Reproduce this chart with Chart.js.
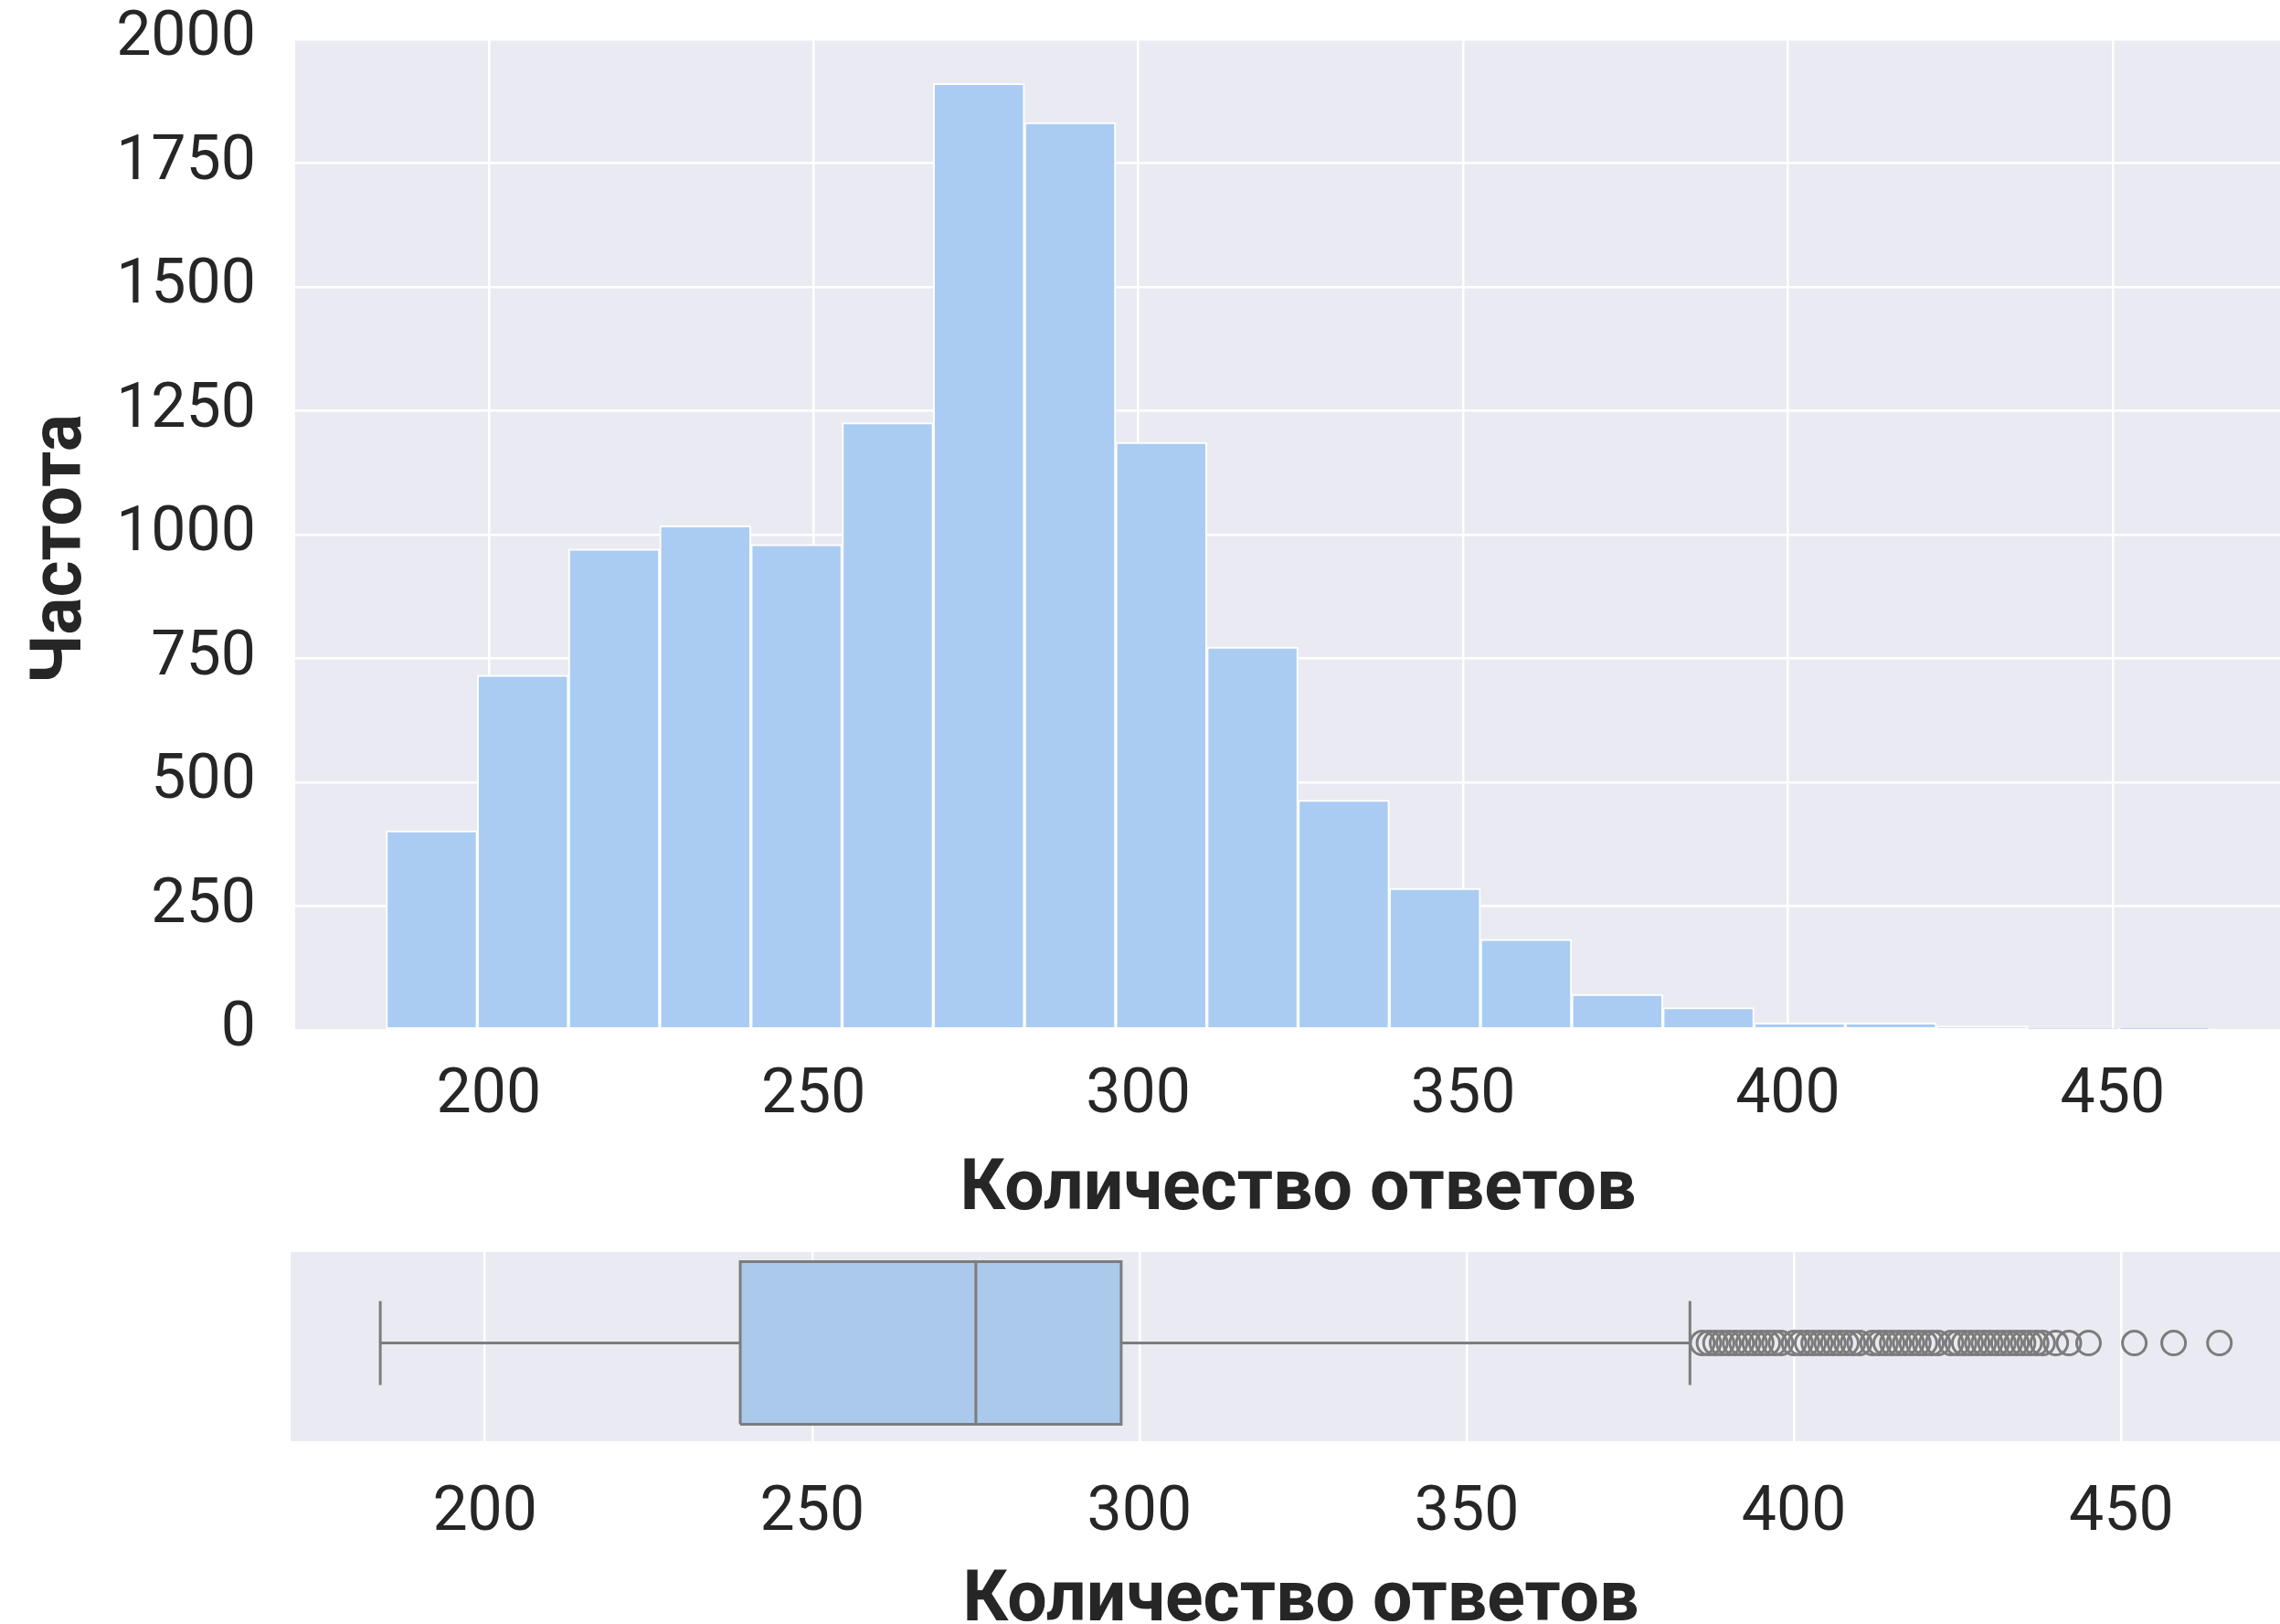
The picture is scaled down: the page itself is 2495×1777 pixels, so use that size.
<!DOCTYPE html>
<html lang="ru">
<head>
<meta charset="utf-8">
<title>Количество ответов</title>
<script src="https://cdn.jsdelivr.net/npm/chart.js@4.4.1/dist/chart.umd.min.js"></script>
<style>
  html, body { margin: 0; padding: 0; background: #ffffff; width: 2495px; height: 1777px; overflow: hidden; }
  canvas { position: absolute; left: 0; }
  #hist-chart { top: 0; }
  #box-chart { top: 1340px; }
</style>
</head>
<body>
<!-- both axes run a little past the right edge of the picture, like the cropped original -->
<canvas id="hist-chart" width="2518" height="1360"></canvas>
<canvas id="box-chart" width="2529" height="480"></canvas>
<script>
'use strict';

// ********** Data **********

let binCenters = [191.22, 205.26, 219.30, 233.34, 247.38, 261.42, 275.46, 289.50, 303.54, 317.58,
  331.62, 345.66, 359.70, 373.74, 387.78, 401.82, 415.86, 429.90, 443.94, 457.98];
let binCounts = [402, 716, 971, 1018, 980, 1226, 1911, 1832, 1186, 773,
  464, 286, 183, 72, 45, 14, 14, 8, 2, 3];

// whisker low, Q1, median, Q3, whisker high
let boxValues = [184.0, 239.0, 275.0, 297.2, 384.1];
let outliers = [386, 387, 388, 389, 390, 391, 392, 393, 394, 395, 396, 397, 398,
  400, 401, 402, 403, 404, 405, 406, 407, 408, 409, 410,
  412, 413, 414, 415, 416, 417, 418, 419, 420, 421, 422,
  424, 425, 426, 427, 428, 429, 430, 431, 432, 433, 434, 435, 436, 437, 438,
  440, 442, 445, 452, 458, 465];

let xTicks = [200, 250, 300, 350, 400, 450];
let yTicks = [0, 250, 500, 750, 1000, 1250, 1500, 1750, 2000];

let xTitle = 'Количество ответов';
let yTitle = 'Частота';

// ********** Styles **********

let textColor = '#262626';
let plotBg = '#eaeaf2';
let barColor = 'rgb(170, 204, 243)';
let boxFill = '#abc9eb';
let lineGray = '#7c7c7c';

Chart.defaults.font.family = 'Roboto';
Chart.defaults.color = textColor;

// paint the seaborn-like grey panel behind the plot
let plotBackground = {
  id: 'plotBackground',
  beforeDraw(chart) {
    let {ctx, chartArea} = chart;
    ctx.save();
    ctx.fillStyle = plotBg;
    ctx.fillRect(chartArea.left, chartArea.top, chartArea.width, chartArea.height);
    ctx.restore();
  }
};

function useTicks(list) {
  return function(scale) {
    scale.ticks = list.map(v => ({value: v}));
  };
}

// fixed axis box, no extra room kept for the end labels
function fixSize(size) {
  return function(scale) {
    if (scale.isHorizontal()) {
      scale.height = size;
    } else {
      scale.width = size;
    }
    scale.paddingTop = 0;
    scale.paddingBottom = 0;
    scale.paddingLeft = 0;
    scale.paddingRight = 0;
  };
}

// ********** Histogram **********

let histData = binCenters.map((x, i) => ({x: x, y: binCounts[i]}));

new Chart(document.getElementById('hist-chart'), {
  type: 'bar',
  data: {
    datasets: [{
      data: histData,
      backgroundColor: barColor,
      borderColor: '#ffffff',
      borderWidth: 2,
      borderSkipped: false,
      barPercentage: 1,
      categoryPercentage: 1
    }]
  },
  options: {
    responsive: false,
    animation: false,
    layout: { autoPadding: false, padding: { top: 43, right: 0, left: 0, bottom: 0 } },
    plugins: { legend: { display: false }, tooltip: { enabled: false } },
    scales: {
      x: {
        type: 'linear',
        min: 170.2,
        max: 479.0,
        offset: false,
        afterBuildTicks: useTicks(xTicks),
        afterFit: fixSize(233),
        grid: { color: '#ffffff', lineWidth: 2.5, drawTicks: false, offset: false },
        border: { display: false },
        ticks: { font: { size: 68 }, padding: 32, maxRotation: 0, callback: v => String(v) },
        title: { display: true, text: xTitle, font: { size: 77, weight: 'bold' }, padding: { top: 0, bottom: 10 } }
      },
      y: {
        min: 0,
        max: 2000,
        afterBuildTicks: useTicks(yTicks),
        afterFit: fixSize(323),
        grid: { color: '#ffffff', lineWidth: 2.5, drawTicks: false },
        border: { display: false },
        ticks: { font: { size: 68 }, padding: 43, callback: v => String(v) },
        // thin trailing spaces nudge the rotated title a bit lower, as in the original
        title: { display: true, text: yTitle + '\u2009\u2009', font: { size: 77, weight: 'bold' }, padding: { top: 23, bottom: 0 } }
      }
    }
  },
  plugins: [plotBackground]
});

// ********** Box plot **********

let boxHalf = 0.43;
let capHalf = 0.222;
let [lowW, q1, med, q3, highW] = boxValues;

function segment(x1, y1, x2, y2) {
  return [{x: x1, y: y1}, {x: x2, y: y2}];
}

function lineSet(points) {
  return {
    data: points,
    showLine: true,
    borderColor: lineGray,
    borderWidth: 3,
    pointRadius: 0,
    fill: false,
    order: 1
  };
}

new Chart(document.getElementById('box-chart'), {
  type: 'scatter',
  data: {
    datasets: [
      lineSet([{x: q1, y: -boxHalf}, {x: q1, y: boxHalf}, {x: q3, y: boxHalf}, {x: q3, y: -boxHalf}, {x: q1, y: -boxHalf}]),
      lineSet(segment(med, -boxHalf, med, boxHalf)),
      lineSet(segment(lowW, 0, q1, 0)),
      lineSet(segment(q3, 0, highW, 0)),
      lineSet(segment(lowW, -capHalf, lowW, capHalf)),
      lineSet(segment(highW, -capHalf, highW, capHalf)),
      {
        data: outliers.map(v => ({x: v, y: 0})),
        showLine: false,
        pointStyle: 'circle',
        pointRadius: 13,
        pointBorderWidth: 3,
        pointBorderColor: lineGray,
        pointBackgroundColor: 'rgba(0, 0, 0, 0)',
        order: 1
      },
      {
        data: segment(q1, boxHalf, q3, boxHalf),
        showLine: true,
        borderWidth: 0,
        pointRadius: 0,
        backgroundColor: boxFill,
        fill: { value: -boxHalf },
        order: 5
      }
    ]
  },
  options: {
    responsive: false,
    animation: false,
    layout: { autoPadding: false, padding: { top: 30, right: 0, left: 318, bottom: 0 } },
    plugins: { legend: { display: false }, tooltip: { enabled: false } },
    scales: {
      x: {
        type: 'linear',
        min: 170.3,
        max: 479.0,
        afterBuildTicks: useTicks(xTicks),
        afterFit: fixSize(243),
        grid: { color: '#ffffff', lineWidth: 2.5, drawTicks: false },
        border: { display: false },
        ticks: { font: { size: 68 }, padding: 39, maxRotation: 0, callback: v => String(v) },
        title: { display: true, text: xTitle, font: { size: 77, weight: 'bold' }, padding: { top: 0, bottom: 20 } }
      },
      y: {
        display: false,
        min: -0.519,
        max: 0.481
      }
    }
  },
  plugins: [plotBackground]
});
</script>
</body>
</html>
